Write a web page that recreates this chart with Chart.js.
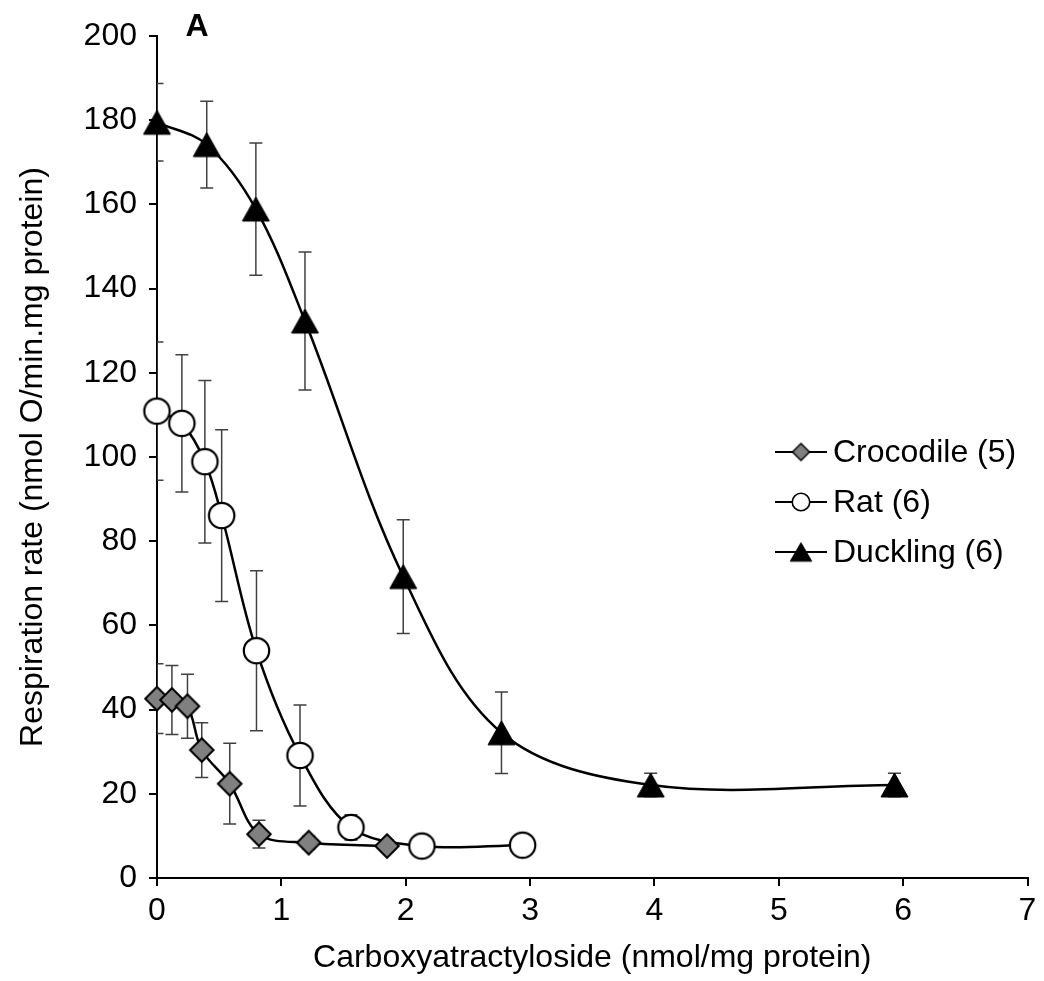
<!DOCTYPE html>
<html>
<head>
<meta charset="utf-8">
<script src="https://cdn.jsdelivr.net/npm/chart.js@4.4.0/dist/chart.umd.min.js"></script>
<style>
html,body{margin:0;padding:0;background:#fff;}
canvas{display:block;}
</style>
</head>
<body>
<canvas id="c" width="1044" height="981"></canvas>
<script>
// ---- data ----
const seriesNames = ['Crocodile (5)', 'Rat (6)', 'Duckling (6)'];

const crocX   = [0, 0.12, 0.245, 0.36, 0.585, 0.82, 1.22, 1.85];
const crocY   = [42.6, 42.3, 40.8, 30.4, 22.4, 10.4, 8.4, 7.6];
const crocErr = [8.3, 8.2, 7.6, 6.5, 9.6, 3.3, 1.5, 1.5];

const ratX   = [0, 0.2, 0.385, 0.52, 0.80, 1.15, 1.56, 2.13, 2.94];
const ratY   = [110.9, 108.0, 98.9, 86.1, 54.0, 29.1, 12.0, 7.6, 7.8];
const ratErr = [16.4, 16.3, 19.3, 20.4, 19.0, 12.0, 3.0, 1.5, 1.5];

const duckX   = [0, 0.40, 0.795, 1.19, 1.98, 2.77, 3.97, 5.93];
const duckY   = [179.5, 174.2, 158.9, 132.3, 71.6, 34.5, 22.1, 22.1];
const duckErr = [9.2, 10.3, 15.7, 16.4, 13.5, 9.7, 2.8, 2.8];

const panelLabel = 'A';
const xTitle = 'Carboxyatractyloside (nmol/mg protein)';
const yTitle = 'Respiration rate (nmol O/min.mg protein)';

const FONT = "'Liberation Sans', Arial, sans-serif";

// ---- marker images ----
function makeMarker(kind, w, h, lw) {
  const pad = Math.ceil(lw) + 1;
  const c = document.createElement('canvas');
  c.width = Math.round(w + 2 * pad);
  c.height = Math.round(h + 2 * pad);
  const g = c.getContext('2d');
  const cx = c.width / 2, cy = c.height / 2;
  g.beginPath();
  if (kind === 'diamond') {
    g.moveTo(cx, cy - h / 2); g.lineTo(cx + w / 2, cy);
    g.lineTo(cx, cy + h / 2); g.lineTo(cx - w / 2, cy); g.closePath();
    g.fillStyle = '#808080';
  } else if (kind === 'circle') {
    g.arc(cx, cy, w / 2, 0, Math.PI * 2);
    g.fillStyle = '#ffffff';
  } else {
    g.moveTo(cx, cy - h / 2); g.lineTo(cx + w / 2, cy + h / 2);
    g.lineTo(cx - w / 2, cy + h / 2); g.closePath();
    g.fillStyle = '#000000';
  }
  g.fill();
  g.lineWidth = lw;
  g.strokeStyle = '#000';
  g.lineJoin = 'miter';
  g.stroke();
  return c;
}

const plotMarkers = [
  makeMarker('diamond', 23.5, 23.5, 2),
  makeMarker('circle', 25.4, 25.4, 2.2),
  makeMarker('triangle', 27, 24, 1)
];
const legendMarkers = [
  makeMarker('diamond', 17, 17, 1.5),
  makeMarker('circle', 17.5, 17.5, 1.6),
  makeMarker('triangle', 21.5, 18.5, 1)
];

const xs = [crocX, ratX, duckX];
const ys = [crocY, ratY, duckY];
const errs = [crocErr, ratErr, duckErr];

const datasets = seriesNames.map((name, k) => ({
  label: name,
  data: xs[k].map((x, i) => ({x: x, y: ys[k][i]})),
  showLine: true,
  borderColor: '#000',
  borderWidth: 2.5,
  tension: 0.35,
  pointStyle: plotMarkers[k],
  pointRadius: 14,
  pointHoverRadius: 14,
  clip: false
}));

const overlay = {
  id: 'overlay',
  beforeDatasetsDraw(chart) {
    const ctx = chart.ctx, sx = chart.scales.x, sy = chart.scales.y, a = chart.chartArea;
    ctx.save();
    ctx.beginPath();
    ctx.rect(a.left, a.top, a.right - a.left, a.bottom - a.top);
    ctx.clip();
    ctx.strokeStyle = '#404040';
    ctx.lineWidth = 1.5;
    for (let k = 0; k < xs.length; k++) {
      for (let i = 0; i < xs[k].length; i++) {
        const px = sx.getPixelForValue(xs[k][i]);
        const t = sy.getPixelForValue(ys[k][i] + errs[k][i]);
        const b = sy.getPixelForValue(ys[k][i] - errs[k][i]);
        ctx.beginPath();
        ctx.moveTo(px, t); ctx.lineTo(px, b);
        ctx.moveTo(px - 6.5, t); ctx.lineTo(px + 6.5, t);
        ctx.moveTo(px - 6.5, b); ctx.lineTo(px + 6.5, b);
        ctx.stroke();
      }
    }
    ctx.restore();
  },
  afterDraw(chart) {
    const ctx = chart.ctx;
    ctx.save();
    // legend
    const rows = [452, 502, 552];
    for (let k = 0; k < seriesNames.length; k++) {
      const y = rows[k];
      ctx.strokeStyle = '#000';
      ctx.lineWidth = 2;
      ctx.beginPath();
      ctx.moveTo(775, y); ctx.lineTo(827, y);
      ctx.stroke();
      const m = legendMarkers[k];
      ctx.drawImage(m, 801 - m.width / 2, y - m.height / 2);
      ctx.fillStyle = '#000';
      ctx.font = '32px ' + FONT;
      ctx.textAlign = 'left';
      ctx.textBaseline = 'middle';
      ctx.fillText(seriesNames[k], 833, y + 1);
    }
    // panel label
    ctx.font = 'bold 32px ' + FONT;
    ctx.textAlign = 'center';
    ctx.textBaseline = 'alphabetic';
    ctx.fillText(panelLabel, 197, 36);
    ctx.restore();
  }
};

const tickFont = {family: FONT, size: 32};

new Chart(document.getElementById('c'), {
  type: 'scatter',
  data: {datasets: datasets},
  options: {
    responsive: false,
    animation: false,
    devicePixelRatio: 1,
    events: [],
    layout: {padding: {top: 36, right: 13, left: 0, bottom: 0}},
    plugins: {legend: {display: false}, tooltip: {enabled: false}},
    scales: {
      x: {
        type: 'linear', min: 0, max: 7,
        ticks: {stepSize: 1, font: tickFont, color: '#000', padding: 6},
        grid: {display: true, drawOnChartArea: false, drawTicks: true, tickLength: 8, color: '#000', lineWidth: 2},
        border: {display: true, color: '#000', width: 2},
        title: {display: true, text: xTitle, font: tickFont, color: '#000', padding: {top: 0, bottom: 4}},
        afterFit(s) { s.height = 103; }
      },
      y: {
        type: 'linear', min: 0, max: 200,
        ticks: {stepSize: 20, font: tickFont, color: '#000', padding: 12},
        grid: {display: true, drawOnChartArea: false, drawTicks: true, tickLength: 8, color: '#000', lineWidth: 2},
        border: {display: true, color: '#000', width: 2},
        title: {display: true, text: yTitle, font: tickFont, color: '#000', padding: {top: 14, bottom: 0}},
        afterFit(s) { s.width = 157; }
      }
    }
  },
  plugins: [overlay]
});
</script>
</body>
</html>
